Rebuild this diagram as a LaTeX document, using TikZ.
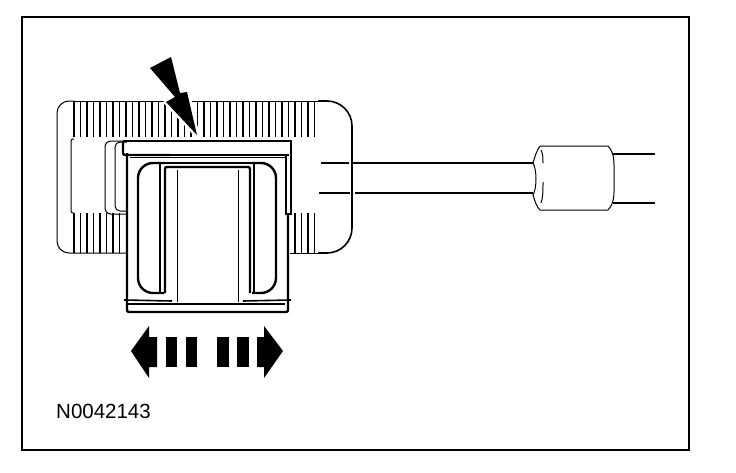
\documentclass[tikz,border=0pt]{standalone}
\usepackage{fontspec}
\setmainfont{Liberation Sans}
\tikzset{
  thinline/.style={line width=1pt},
  mainline/.style={line width=1.6pt},
  heavyline/.style={line width=2.4pt},
  hatchline/.style={line width=1.2pt},
  solidblack/.style={fill=black, draw=none},
  refnumber/.style={font=\fontsize{20.5}{20.5}\selectfont, inner sep=0pt, anchor=west}
}
\begin{document}
\begin{tikzpicture}[x=1pt, y=-1pt]
  \useasboundingbox (0,0) rectangle (736,472);
  \fill[white] (0,0) rectangle (736,472);
  \draw[line width=2.2pt] (22,17) rectangle (689,450);
  % housing
  \draw[thinline, rounded corners=12pt] (75,101) -- (57,101) -- (57,253) -- (127,253);
  \draw[thinline] (75,101) -- (320,101);
  \draw[thinline] (288,253) -- (320,253);
  \draw[mainline, rounded corners=25pt] (318,101) -- (352,101) -- (352,253) -- (318,253);
  \draw[thinline, rounded corners=2pt] (74,139) -- (71,139) -- (71,213) -- (74,213);
  \foreach \x in {74,80.5,...,318} {
    \draw[hatchline] (\x,101) -- (\x,137);
  }
  \foreach \x in {74,80.5,...,125} {
    \draw[hatchline] (\x,213) -- (\x,253);
  }
  \foreach \x in {295,301.5,...,318} {
    \draw[hatchline] (\x,213) -- (\x,253);
  }
  % cable
  \draw[mainline] (321,163) -- (349,163) (353,163) -- (533,163);
  \draw[mainline] (319,193) -- (350,193) (355,193) -- (533,193);
  \draw[thinline] (540,146) -- (608,146) .. controls (612,150) and (614,156) .. (614,165)
    -- (614,192) .. controls (614,200) and (612,206) .. (608,210) -- (540,210)
    .. controls (537,207) and (535,202) .. (533,195)
    .. controls (537,188) and (537,170) .. (533,163)
    .. controls (535,156) and (537,150) .. (540,146);
  \draw[thinline] (541,150) .. controls (543,154) and (543,158) .. (543,163);
  \draw[thinline] (543,182) .. controls (543,190) and (543,198) .. (541,203);
  \draw[mainline] (613,154) -- (655,154);
  \draw[mainline] (613,203) -- (655,203);
  % tab behind slider
  \draw[thinline, rounded corners=6pt] (127,141) -- (105,141) -- (105,214) -- (127,214);
  \draw[thinline, rounded corners=5pt] (127,142) -- (115,142) -- (115,211) -- (127,211);
  % slider
  \fill[white] (127,140) rectangle (290,312);
  \draw[heavyline, rounded corners=2pt] (127,153) -- (127,312) -- (288,312) -- (288,214);
  \draw[heavyline] (123,141) -- (291,141) -- (291,214) -- (286,214) -- (286,155);
  \draw[heavyline, rounded corners=2pt] (123,141) -- (123,155) -- (170,155);
  \draw[mainline] (170,155) -- (289,155);
  \draw[thinline] (130,157) -- (285,157);
  % window
  \draw[heavyline, rounded corners=15pt] (164,163) -- (138,163) -- (138,293) -- (164,293);
  \draw[heavyline, rounded corners=15pt] (252,163) -- (276,163) -- (276,293) -- (252,293);
  \draw[heavyline] (160,163) -- (256,163);
  \draw[heavyline, rounded corners=2pt] (165,293) -- (165,167) -- (250,167) -- (250,293);
  \draw[mainline] (160,163) -- (160,293);
  \draw[heavyline] (254,163) -- (254,293);
  \draw[thinline] (177,170) -- (177,302) (238,170) -- (238,302);
  % lower flange
  \draw[mainline] (124,300) -- (172,301) (243,301) -- (291,300);
  \draw[mainline] (128,304) -- (285,304);
  % press arrow
  \draw[white, line width=5pt, line join=round] (150,68) -- (171,57) -- (180,93) -- (187,92)
    -- (197,135) -- (166,102) -- (175,97) -- cycle;
  \fill[solidblack] (150,68) -- (171,57) -- (180,93) -- (187,92)
    -- (197,135) -- (166,102) -- (175,97) -- cycle;
  % slide arrows
  \fill[solidblack] (131,351) -- (149,326) -- (149,337) -- (157,337) -- (157,367)
    -- (149,367) -- (149,378) -- cycle;
  \fill[solidblack] (166,337) rectangle (177,367);
  \fill[solidblack] (186,337) rectangle (197,367);
  \fill[solidblack] (217,337) rectangle (229,367);
  \fill[solidblack] (237,337) rectangle (249,367);
  \fill[solidblack] (283,351) -- (264,326) -- (264,337) -- (257,337) -- (257,367)
    -- (264,367) -- (264,378) -- cycle;
  \node[refnumber] (partnumber) at (56,411) {N0042143};
\end{tikzpicture}
\end{document}
